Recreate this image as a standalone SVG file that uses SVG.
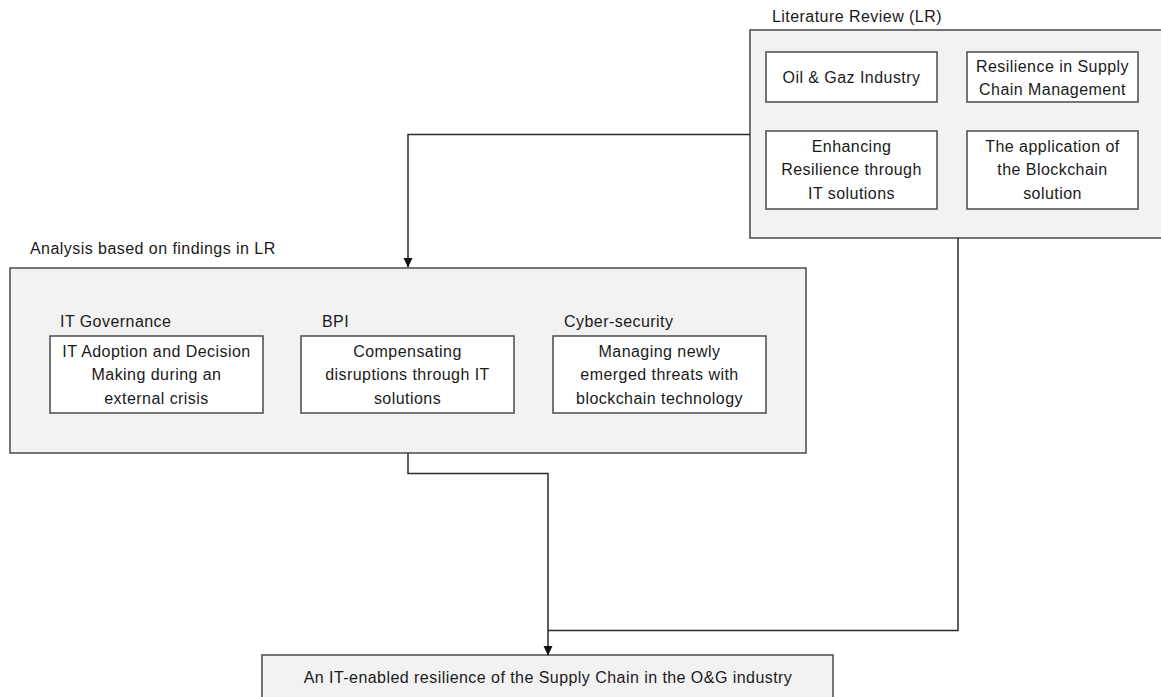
<svg xmlns="http://www.w3.org/2000/svg" width="1161" height="697" viewBox="0 0 1161 697">
  <defs>
    <marker id="arrow" markerWidth="10" markerHeight="10" refX="9" refY="5" orient="auto" markerUnits="userSpaceOnUse">
      <path d="M0,0.5 L9.5,5 L0,9.5 Z" fill="#111"/>
    </marker>
  </defs>
  <style>
    text { font-family: "Liberation Sans", Arial, sans-serif; font-size: 16px; letter-spacing: 0.45px; fill: #1a1a1a; }
    .c { text-anchor: middle; }
    .outer { fill: #f2f2f2; stroke: #4a4a4a; stroke-width: 1.5; }
    .inner { fill: #ffffff; stroke: #4a4a4a; stroke-width: 1.5; }
    .wire { fill: none; stroke: #2a2a2a; stroke-width: 1.5; }
  </style>
  <rect width="1161" height="697" fill="#ffffff"/>

  <!-- Literature review container -->
  <g id="literature-review">
    <text x="772" y="22">Literature Review (LR)</text>
    <rect class="outer" x="750" y="30" width="420" height="208"/>
  </g>
  <g id="oil-gaz">
    <rect class="inner" x="766" y="52" width="171" height="50"/>
    <text class="c" x="851.5" y="83">Oil &amp; Gaz Industry</text>
  </g>
  <g id="resilience-scm">
    <rect class="inner" x="967" y="52" width="171" height="50"/>
    <text class="c" x="1052.5" y="72">Resilience in Supply</text>
    <text class="c" x="1052.5" y="95">Chain Management</text>
  </g>
  <g id="enhancing-resilience">
    <rect class="inner" x="766" y="131" width="171" height="78"/>
    <text class="c" x="851.5" y="152">Enhancing</text>
    <text class="c" x="851.5" y="175">Resilience through</text>
    <text class="c" x="851.5" y="199">IT solutions</text>
  </g>
  <g id="blockchain-application">
    <rect class="inner" x="967" y="131" width="171" height="78"/>
    <text class="c" x="1052.5" y="152">The application of</text>
    <text class="c" x="1052.5" y="175">the Blockchain</text>
    <text class="c" x="1052.5" y="199">solution</text>
  </g>

  <!-- Analysis container -->
  <g id="analysis">
    <text x="30" y="254">Analysis based on findings in LR</text>
    <rect class="outer" x="10" y="268" width="796" height="185"/>
  </g>
  <g id="it-governance">
    <text x="60" y="327">IT Governance</text>
    <rect class="inner" x="50" y="336" width="213" height="77"/>
    <text class="c" x="156.5" y="357">IT Adoption and Decision</text>
    <text class="c" x="156.5" y="380">Making during an</text>
    <text class="c" x="156.5" y="404">external crisis</text>
  </g>
  <g id="bpi">
    <text x="322" y="327">BPI</text>
    <rect class="inner" x="301" y="336" width="213" height="77"/>
    <text class="c" x="407.5" y="357">Compensating</text>
    <text class="c" x="407.5" y="380">disruptions through IT</text>
    <text class="c" x="407.5" y="404">solutions</text>
  </g>
  <g id="cyber-security">
    <text x="564" y="327">Cyber-security</text>
    <rect class="inner" x="553" y="336" width="213" height="77"/>
    <text class="c" x="659.5" y="357">Managing newly</text>
    <text class="c" x="659.5" y="380">emerged threats with</text>
    <text class="c" x="659.5" y="404">blockchain technology</text>
  </g>

  <!-- Outcome -->
  <g id="outcome">
    <rect class="outer" x="262" y="655" width="571" height="50"/>
    <text class="c" x="548" y="683">An IT-enabled resilience of the Supply Chain in the O&amp;G industry</text>
  </g>

  <!-- Connectors -->
  <g id="connectors">
    <path class="wire" d="M750,134.5 H408 V267" marker-end="url(#arrow)"/>
    <path class="wire" d="M408,453 V473.5 H548 V655" marker-end="url(#arrow)"/>
    <path class="wire" d="M958,238 V630.5 H548"/>
  </g>
</svg>
